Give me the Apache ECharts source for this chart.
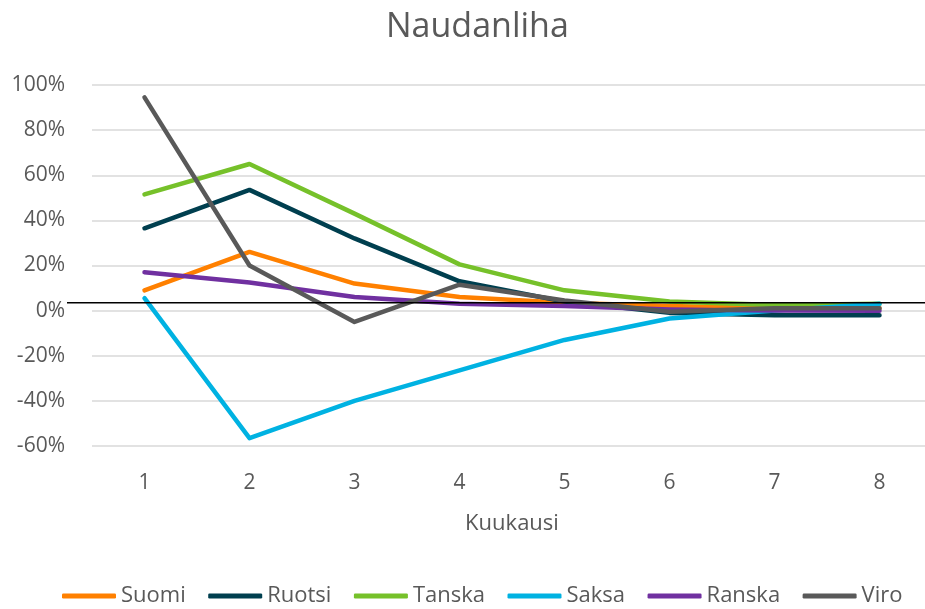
<!DOCTYPE html>
<html><head><meta charset="utf-8">
<script src="https://cdn.jsdelivr.net/npm/echarts@6/dist/echarts.min.js"></script>
<style>html,body{margin:0;padding:0;background:#fff}#c{width:925px;height:609px}</style>
</head><body><div id="c"></div>
<script>
const categories = ['1','2','3','4','5','6','7','8'];
const suomi  = [9, 26, 12, 6, 3.5, 2, 1, 1];
const ruotsi = [36.5, 53.5, 32, 13, 4, -1, -2, -2];
const tanska = [51.5, 65, 43, 20.5, 9, 4, 2.5, 3];
const saksa  = [5.5, -56.5, -40, -26.5, -13, -3.5, 0, 3];
const ranska = [17, 12.5, 6, 3, 2, 0.5, 0, 0];
const viro   = [94.5, 20, -5, 11.5, 4.5, -0.5, 1, 1];
const refValue = 3.5;
const seriesNames = ['Suomi','Ruotsi','Tanska','Saksa','Ranska','Viro'];
const seriesData = [suomi, ruotsi, tanska, saksa, ranska, viro];
const colors = ['#FF8000','#003F4F','#76C12A','#00B2E2','#7030A0','#595959'];

const font = '"Open Sans", "Noto Sans", sans-serif';
const chart = echarts.init(document.getElementById('c'));
chart.setOption({
  animation:false,
  color: colors,
  title:{text:'Naudanliha', left:381, top:5,
    textStyle:{fontFamily:font,fontSize:34,fontWeight:'normal',color:'#595959'}},
  grid:{left:92,width:840,top:85,height:361,containLabel:false,outerBoundsMode:'none'},
  legend:{top:585,left:62,padding:0,itemWidth:54,itemHeight:5,itemGap:22.5,
    icon:'roundRect',
    textStyle:{fontFamily:font,fontSize:22,color:'#595959'},
    data:seriesNames},
  xAxis:{type:'category',data:categories,boundaryGap:true,
    name:'Kuukausi',nameLocation:'middle',nameGap:67,
    nameTextStyle:{fontFamily:font,fontSize:22,color:'#595959'},
    axisLine:{show:false},axisTick:{show:false},
    axisLabel:{fontFamily:font,fontSize:21,color:'#595959',margin:27}},
  yAxis:{type:'value',min:-60,max:100,interval:20,
    axisLabel:{formatter:'{value}%',fontFamily:font,fontSize:21,color:'#595959',margin:27},
    axisLine:{show:false},axisTick:{show:false},
    splitLine:{lineStyle:{color:'#D9D9D9',width:1.5}}},
  series: seriesNames.map((n,i)=>({
    name:n,type:'line',data:seriesData[i],symbol:'none',
    lineStyle:{width:4.5,color:colors[i],cap:'round',join:'round'},
    itemStyle:{color:colors[i]}
  }))
});
const yRef = chart.convertToPixel({yAxisIndex:0}, refValue);
chart.setOption({graphic:[{type:'line',z:100,
  shape:{x1:67,y1:yRef,x2:925,y2:yRef},
  style:{stroke:'#000',lineWidth:1.3}}]});
</script></body></html>
